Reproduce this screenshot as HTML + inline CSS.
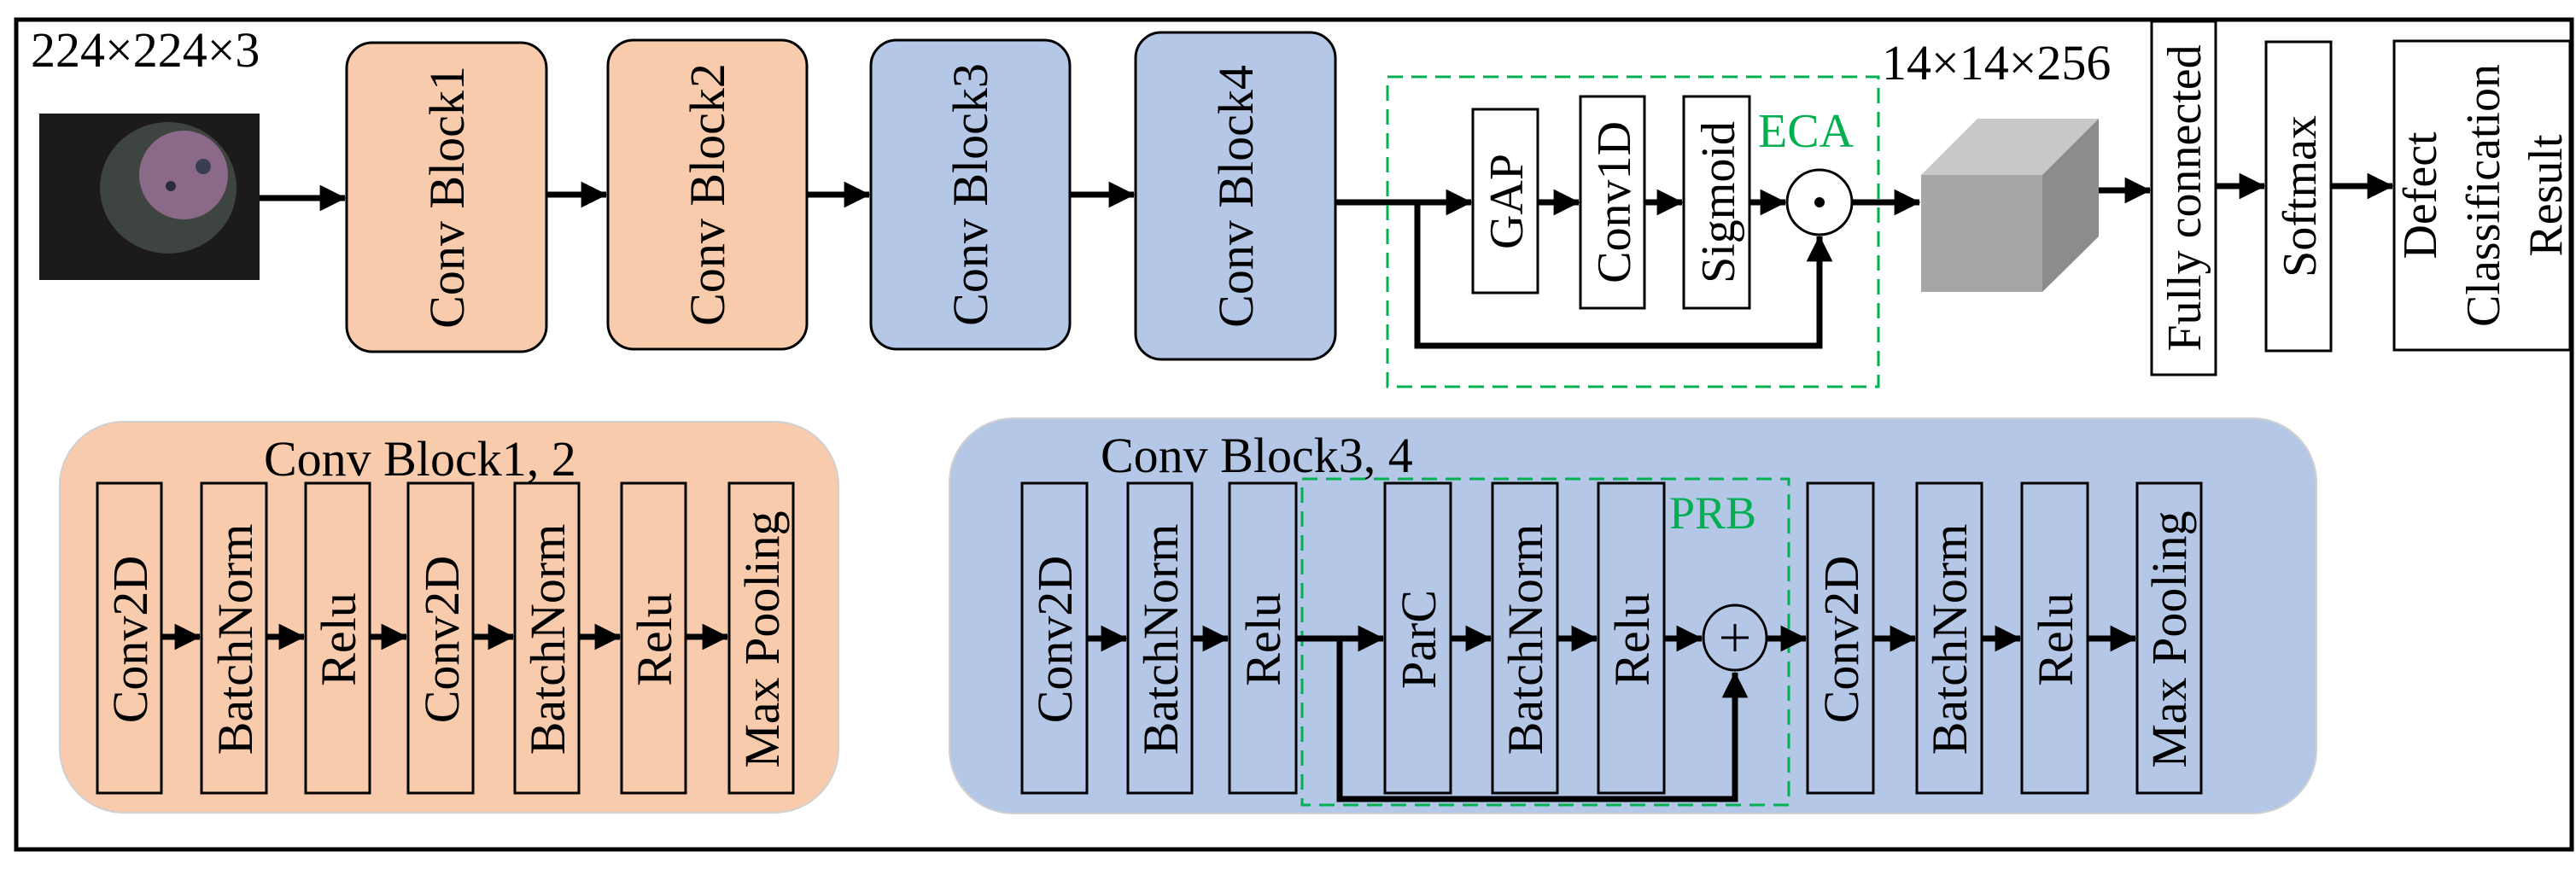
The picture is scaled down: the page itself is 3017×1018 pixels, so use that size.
<!DOCTYPE html>
<html><head><meta charset="utf-8"><style>html,body{margin:0;padding:0;background:#fff}svg{display:block}</style></head>
<body>
<svg width="3017" height="1018" viewBox="0 0 3017 1018" xmlns="http://www.w3.org/2000/svg" font-family="Liberation Serif, serif">
<defs>
<marker id="a" markerWidth="4.4" markerHeight="4.4" refX="4.2" refY="2.2" orient="auto" markerUnits="strokeWidth"><path d="M0,0 L4.4,2.2 L0,4.4 z" fill="#000"/></marker>
</defs>
<rect x="0" y="0" width="3017" height="1018" fill="#fff"/>
<rect x="19" y="23" width="2993" height="972" fill="none" stroke="#000" stroke-width="5"/>

<text x="36" y="78" font-size="58">224×224×3</text>
<!-- image -->
<rect x="46" y="133" width="258" height="195" fill="#1c1b19"/>
<ellipse cx="197" cy="220" rx="80" ry="77" fill="#3e443f"/>
<circle cx="215" cy="205" r="52" fill="#8a6a88"/>
<circle cx="238" cy="195" r="9" fill="#3a3e52"/>
<circle cx="200" cy="218" r="6" fill="#2a2a3a"/>

<g stroke="#000" stroke-width="7" fill="none" marker-end="url(#a)">
<line x1="304" y1="232" x2="404" y2="232"/>
<line x1="640" y1="228" x2="710" y2="228"/>
<line x1="945" y1="228" x2="1018" y2="228"/>
<line x1="1253" y1="228" x2="1328" y2="228"/>
<line x1="1564" y1="237" x2="1723" y2="237"/>
<line x1="1801" y1="237" x2="1849" y2="237"/>
<line x1="1926" y1="237" x2="1970" y2="237"/>
<line x1="2049" y1="237" x2="2091" y2="237"/>
<line x1="2169" y1="237" x2="2248" y2="237"/>
<line x1="2458" y1="223" x2="2518" y2="223"/>
<line x1="2595" y1="218" x2="2652" y2="218"/>
<line x1="2730" y1="218" x2="2802" y2="218"/>
<polyline points="1660,237 1660,405 2131,405 2131,277"/>
</g>

<g stroke="#000" stroke-width="3">
<rect x="406" y="50" width="234" height="362" rx="30" fill="#F8CBAD"/>
<rect x="712" y="47" width="233" height="362" rx="30" fill="#F8CBAD"/>
<rect x="1020" y="47" width="233" height="362" rx="30" fill="#B4C7E7"/>
<rect x="1330" y="38" width="234" height="383" rx="30" fill="#B4C7E7"/>
</g>
<g font-size="58" text-anchor="middle">
<text transform="translate(543,231) rotate(-90)">Conv Block1</text>
<text transform="translate(848,228) rotate(-90)">Conv Block2</text>
<text transform="translate(1156,228) rotate(-90)">Conv Block3</text>
<text transform="translate(1467,230) rotate(-90)">Conv Block4</text>
</g>

<rect x="1625" y="90" width="575" height="363" fill="none" stroke="#00B050" stroke-width="3" stroke-dasharray="18,10"/>
<g stroke="#000" stroke-width="3" fill="#fff">
<rect x="1725" y="128" width="76" height="215"/>
<rect x="1851" y="113" width="75" height="248"/>
<rect x="1972" y="113" width="77" height="248"/>
<rect x="2520" y="25" width="75" height="414"/>
<rect x="2654" y="49" width="76" height="362"/>
<rect x="2804" y="48" width="206" height="362"/>
<ellipse cx="2131" cy="237" rx="38" ry="38"/>
</g>
<circle cx="2131" cy="237" r="6" fill="#000"/>
<text x="2059" y="172" font-size="56" fill="#00B050">ECA</text>
<g font-size="56" text-anchor="middle">
<text transform="translate(1783,236) rotate(-90)">GAP</text>
<text transform="translate(1909,237) rotate(-90)">Conv1D</text>
<text transform="translate(2031,237) rotate(-90)">Sigmoid</text>
<text transform="translate(2577,232) rotate(-90)">Fully connected</text>
<text transform="translate(2712,230) rotate(-90)">Softmax</text>
<text transform="translate(2853,229) rotate(-90)">Defect</text>
<text transform="translate(2927,229) rotate(-90)">Classification</text>
<text transform="translate(3000,229) rotate(-90)">Result</text>
</g>

<!-- cube -->
<polygon points="2250,205 2316,139 2458,139 2392,205" fill="#c8c8c8"/>
<polygon points="2392,205 2458,139 2458,277 2392,342" fill="#8c8c8c"/>
<rect x="2250" y="205" width="142" height="137" fill="#a6a6a6"/>
<text x="2204" y="93" font-size="58">14×14×256</text>

<!-- bottom left -->
<rect x="70" y="494" width="912" height="458" rx="75" fill="#F8CBAD" stroke="#d0d0d0" stroke-width="2"/>
<text x="309" y="557" font-size="58">Conv Block1, 2</text>
<g stroke="#000" stroke-width="3" fill="none">
<rect x="114" y="566" width="75" height="363"/>
<rect x="236" y="566" width="76" height="363"/>
<rect x="358" y="566" width="75" height="363"/>
<rect x="478" y="566" width="76" height="363"/>
<rect x="603" y="566" width="75" height="363"/>
<rect x="728" y="566" width="75" height="363"/>
<rect x="854" y="566" width="75" height="363"/>
</g>
<g stroke="#000" stroke-width="7" marker-end="url(#a)">
<line x1="189" y1="746" x2="234" y2="746"/>
<line x1="312" y1="746" x2="356" y2="746"/>
<line x1="433" y1="746" x2="476" y2="746"/>
<line x1="554" y1="746" x2="601" y2="746"/>
<line x1="678" y1="746" x2="726" y2="746"/>
<line x1="803" y1="746" x2="852" y2="746"/>
</g>
<g font-size="58" text-anchor="middle">
<text transform="translate(172,749) rotate(-90)">Conv2D</text>
<text transform="translate(295,749) rotate(-90)">BatchNorm</text>
<text transform="translate(416,749) rotate(-90)">Relu</text>
<text transform="translate(537,749) rotate(-90)">Conv2D</text>
<text transform="translate(661,749) rotate(-90)">BatchNorm</text>
<text transform="translate(786,749) rotate(-90)">Relu</text>
<text transform="translate(912,749) rotate(-90)">Max Pooling</text>
</g>

<!-- bottom right -->
<rect x="1112" y="490" width="1601" height="463" rx="75" fill="#B4C7E7" stroke="#d0d0d0" stroke-width="2"/>
<text x="1289" y="553" font-size="58">Conv Block3, 4</text>
<rect x="1525" y="561" width="570" height="382" fill="none" stroke="#00B050" stroke-width="3" stroke-dasharray="18,10"/>
<text x="1955" y="619" font-size="54" fill="#00B050">PRB</text>
<g stroke="#000" stroke-width="3" fill="none">
<rect x="1197" y="566" width="76" height="363"/>
<rect x="1321" y="566" width="75" height="363"/>
<rect x="1440" y="566" width="78" height="363"/>
<rect x="1622" y="566" width="77" height="363"/>
<rect x="1748" y="566" width="76" height="363"/>
<rect x="1872" y="566" width="77" height="363"/>
<rect x="2117" y="566" width="77" height="363"/>
<rect x="2245" y="566" width="76" height="363"/>
<rect x="2368" y="566" width="77" height="363"/>
<rect x="2503" y="566" width="75" height="363"/>
<ellipse cx="2032" cy="747" rx="37" ry="38"/>
<line x1="2032" y1="731" x2="2032" y2="763"/>
<line x1="2016" y1="747" x2="2048" y2="747"/>
</g>
<g stroke="#000" stroke-width="7" fill="none" marker-end="url(#a)">
<line x1="1273" y1="748" x2="1319" y2="748"/>
<line x1="1396" y1="748" x2="1438" y2="748"/>
<line x1="1518" y1="748" x2="1620" y2="748"/>
<line x1="1699" y1="748" x2="1746" y2="748"/>
<line x1="1824" y1="748" x2="1870" y2="748"/>
<line x1="1949" y1="748" x2="1993" y2="748"/>
<line x1="2069" y1="748" x2="2115" y2="748"/>
<line x1="2194" y1="748" x2="2243" y2="748"/>
<line x1="2321" y1="748" x2="2366" y2="748"/>
<line x1="2445" y1="748" x2="2501" y2="748"/>
<polyline points="1569,748 1569,936 2032,936 2032,788"/>
</g>
<g font-size="58" text-anchor="middle">
<text transform="translate(1255,749) rotate(-90)">Conv2D</text>
<text transform="translate(1379,749) rotate(-90)">BatchNorm</text>
<text transform="translate(1499,749) rotate(-90)">Relu</text>
<text transform="translate(1681,749) rotate(-90)">ParC</text>
<text transform="translate(1806,749) rotate(-90)">BatchNorm</text>
<text transform="translate(1931,749) rotate(-90)">Relu</text>
<text transform="translate(2176,749) rotate(-90)">Conv2D</text>
<text transform="translate(2303,749) rotate(-90)">BatchNorm</text>
<text transform="translate(2427,749) rotate(-90)">Relu</text>
<text transform="translate(2560,749) rotate(-90)">Max Pooling</text>
</g>
</svg>
</body></html>
